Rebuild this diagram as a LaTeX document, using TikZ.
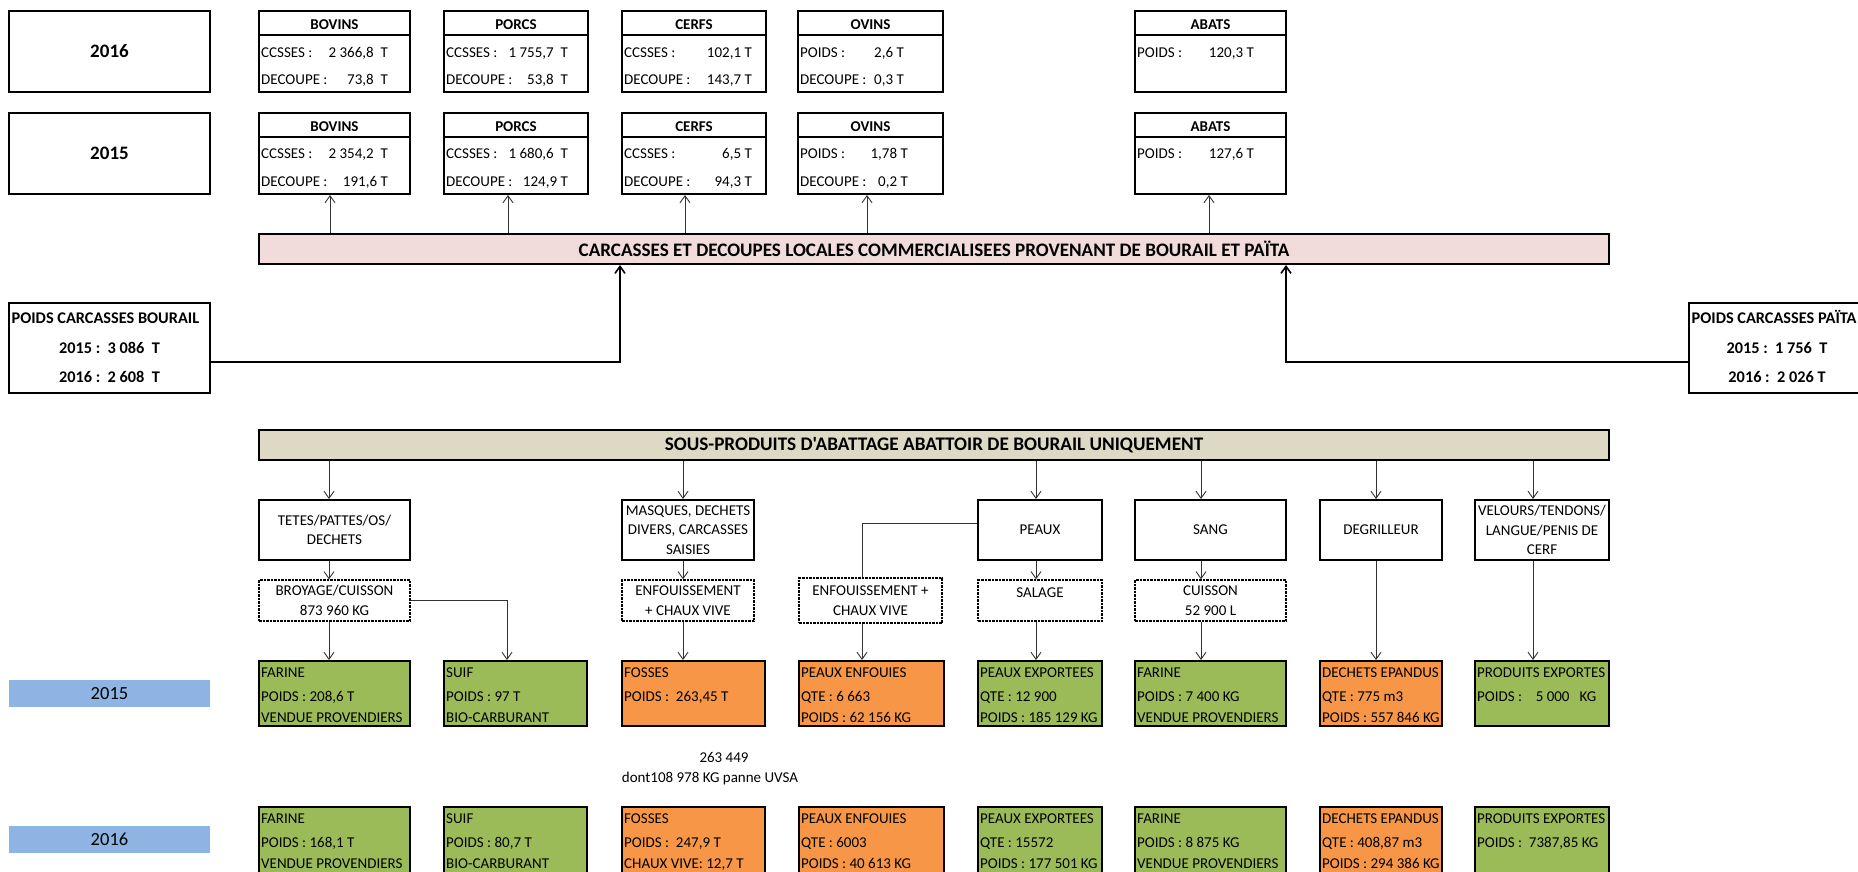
\documentclass[tikz,border=0pt]{standalone}
\usepackage{fontspec}
\setmainfont{Carlito}[Ligatures=TeXOff]
\usetikzlibrary{arrows.meta}
\definecolor{pinkbar}{HTML}{F2DCDB}
\definecolor{tanbar}{HTML}{DDD9C4}
\definecolor{ygreen}{HTML}{9BBB59}
\definecolor{yorange}{HTML}{F79646}
\definecolor{yblue}{HTML}{8DB4E2}
\newcommand{\mynorm}{\fontsize{15}{18}\selectfont}
\newcommand{\myb}{\fontsize{15}{18}\selectfont\bfseries}
\newcommand{\mybig}{\fontsize{16.3}{19}\selectfont\bfseries}
\newcommand{\mymulti}{\fontsize{15}{19.5}\selectfont}
\newcommand{\mybar}{\fontsize{19.1}{22}\selectfont\bfseries}
\newcommand{\mybarb}{\fontsize{19.2}{22}\selectfont\bfseries}
\newcommand{\myyear}{\fontsize{19}{22}\selectfont\bfseries}
\newcommand{\myyearn}{\fontsize{18.5}{22}\selectfont}
\newcommand{\myrbox}[7]{\node[#6, minimum width={(#4-(#2))*1pt}, minimum height={(#5-(#3))*1pt}] (#1) at ({((#2)+(#4))/2},{((#3)+(#5))/2}) {#7};}
\newcommand{\mytopbox}[5]{\myrbox{#1}{#2}{#3}{#4}{#3+81}{frame}{}
  \draw[framel] ([yshift=-25pt]#1.north west) -- ([yshift=-25pt]#1.north east);
  \node[ct, font=\myb] (#1h) at ({((#2)+(#4))/2},{(#3)+13.5}) {#5};}
\newcommand{\myrow}[6]{\node[lt] (#1l) at ({(#2)+2},#3) {#4}; \node[rt] (#1v) at (#5,#3) {#6};}
\newcommand{\mygbox}[9]{\myrbox{#1}{#2}{#4}{#3}{#5}{frame, fill=#6}{}
  \node[lt] (#1a) at ({(#2)+2},{(#4)+11.5}) {#7};
  \node[lt] (#1b) at ({(#2)+2},{(#4)+35}) {#8};
  \node[lt] (#1c) at ({(#2)+2},{(#4)+56}) {#9};}
\begin{document}
\begin{tikzpicture}[x=1pt,y=-1pt,
  every node/.style={font=\mynorm, text=black},
  frame/.style={draw=black, line width=2pt, inner sep=0pt},
  framel/.style={draw=black, line width=2pt},
  dbox/.style={draw=black, line width=1.4pt, dash pattern=on 2.5pt off 1pt, inner sep=0pt},
  thinl/.style={draw=black!80, line width=0.9pt},
  arr/.style={thinl, -{Straight Barb[length=7pt,width=10pt]}},
  heavy/.style={draw=black, line width=1.6pt, -{Straight Barb[length=7pt,width=10pt]}},
  lt/.style={anchor=base west, inner sep=0pt, yshift=-5pt},
  ct/.style={anchor=base, inner sep=0pt, yshift=-5pt},
  rt/.style={anchor=base east, inner sep=0pt, yshift=-5pt}]
\useasboundingbox (0,0) rectangle (1858,871);
\clip (0,0) rectangle (1858,871);
% year boxes
\myrbox{y16}{9}{11}{210}{92}{frame, font=\myyear}{2016}
\myrbox{y15}{9}{113}{210}{194}{frame, font=\myyear}{2015}
% 2016 boxes
\mytopbox{t16a}{259}{11}{410}{BOVINS}
\myrow{t16a1}{259}{52}{CCSSES :}{388}{2~366,8\ \ T}
\myrow{t16a2}{259}{79}{DECOUPE :}{388}{73,8\ \ T}
\mytopbox{t16b}{444}{11}{588}{PORCS}
\myrow{t16b1}{444}{52}{CCSSES :}{568}{1~755,7\ \ T}
\myrow{t16b2}{444}{79}{DECOUPE :}{568}{53,8\ \ T}
\mytopbox{t16c}{622}{11}{766}{CERFS}
\myrow{t16c1}{622}{52}{CCSSES :}{752}{102,1 T}
\myrow{t16c2}{622}{79}{DECOUPE :}{752}{143,7 T}
\mytopbox{t16d}{798}{11}{943}{OVINS}
\myrow{t16d1}{798}{52}{POIDS :}{904}{2,6 T}
\myrow{t16d2}{798}{79}{DECOUPE :}{904}{0,3 T}
\mytopbox{t16f}{1135}{11}{1286}{ABATS}
\myrow{t16f1}{1135}{52}{POIDS :}{1254}{120,3 T}
% 2015 boxes
\mytopbox{t15a}{259}{113}{410}{BOVINS}
\myrow{t15a1}{259}{153}{CCSSES :}{388}{2~354,2\ \ T}
\myrow{t15a2}{259}{181}{DECOUPE :}{388}{191,6 T}
\mytopbox{t15b}{444}{113}{588}{PORCS}
\myrow{t15b1}{444}{153}{CCSSES :}{568}{1~680,6\ \ T}
\myrow{t15b2}{444}{181}{DECOUPE :}{568}{124,9 T}
\mytopbox{t15c}{622}{113}{766}{CERFS}
\myrow{t15c1}{622}{153}{CCSSES :}{752}{6,5 T}
\myrow{t15c2}{622}{181}{DECOUPE :}{752}{94,3 T}
\mytopbox{t15d}{798}{113}{943}{OVINS}
\myrow{t15d1}{798}{153}{POIDS :}{908}{1,78 T}
\myrow{t15d2}{798}{181}{DECOUPE :}{908}{0,2 T}
\mytopbox{t15f}{1135}{113}{1286}{ABATS}
\myrow{t15f1}{1135}{153}{POIDS :}{1254}{127,6 T}
% carcasses bar
\myrbox{carc}{259}{234}{1609}{264}{frame, fill=pinkbar, font=\mybar}{CARCASSES ET DECOUPES LOCALES COMMERCIALISEES PROVENANT DE BOURAIL ET PAÏTA}
\coordinate (xA) at (330,0); \coordinate (xB) at (508,0); \coordinate (xC) at (685,0);
\coordinate (xD) at (867,0); \coordinate (xF) at (1209,0);
\foreach \c/\b in {xA/t15a, xB/t15b, xC/t15c, xD/t15d, xF/t15f}
  \draw[arr] (carc.north -| \c) -- (\b.south -| \c);
% poids carcasses boxes
\myrbox{bour}{9}{303}{210}{393}{frame}{}
\node[lt, font=\mybig] (bour1) at (11.5,318) {POIDS CARCASSES BOURAIL};
\node[ct, font=\mybig] (bour2) at (109.5,348) {2015 :\ \ 3~086\ \ T};
\node[ct, font=\mybig] (bour3) at (109.5,377) {2016 :\ \ 2~608\ \ T};
\myrbox{pait}{1689}{303}{1900}{393}{frame}{}
\node[lt, font=\mybig] (pait1) at (1691.5,318) {POIDS CARCASSES PAÏTA};
\node[ct, font=\mybig] (pait2) at (1777,348) {2015 :\ \ 1~756\ \ T};
\node[ct, font=\mybig] (pait3) at (1777,377) {2016 :\ \ 2~026 T};
\coordinate (hy) at (0,362); \coordinate (xBo) at (620,0); \coordinate (xPa) at (1286,0);
\draw[heavy] (bour.east |- hy) -| (carc.south -| xBo);
\draw[heavy] (pait.west |- hy) -| (carc.south -| xPa);
% sous-produits
\myrbox{sous}{259}{430}{1609}{460}{frame, fill=tanbar, font=\mybarb}{SOUS-PRODUITS D'ABATTAGE ABATTOIR DE BOURAIL UNIQUEMENT}
\myrbox{tetes}{259}{500}{410}{560}{frame, align=center, font=\mymulti}{TETES/PATTES/OS/\\DECHETS}
\myrbox{masq}{622}{500}{754}{560}{frame, align=center, font=\mymulti}{MASQUES, DECHETS\\DIVERS, CARCASSES\\SAISIES}
\myrbox{peaux}{978}{500}{1102}{560}{frame}{PEAUX}
\myrbox{sang}{1135}{500}{1286}{560}{frame}{SANG}
\myrbox{degr}{1320}{500}{1442}{560}{frame}{DEGRILLEUR}
\myrbox{velo}{1475}{500}{1609}{560}{frame, align=center, font=\mymulti}{VELOURS/TENDONS/\\LANGUE/PENIS DE\\CERF}
% dashed process boxes
\myrbox{broy}{259}{580}{410}{621}{dbox, align=center, font=\mymulti}{BROYAGE/CUISSON\\873~960 KG}
\myrbox{enf1}{622}{580}{754}{621}{dbox, align=center, font=\mymulti}{ENFOUISSEMENT\\+ CHAUX VIVE}
\myrbox{enf2}{799}{578}{942}{623}{dbox, align=center, font=\mymulti}{ENFOUISSEMENT +\\CHAUX VIVE}
\myrbox{sal}{978}{580}{1102}{621}{dbox}{}
\node[ct] (salt) at (1040,592) {SALAGE};
\myrbox{cuis}{1135}{580}{1286}{621}{dbox, align=center, font=\mymulti}{CUISSON\\52~900 L}
% 2015 results
\mygbox{g15a}{259}{410}{661}{726}{ygreen}{FARINE}{POIDS : 208,6 T}{VENDUE PROVENDIERS}
\mygbox{g15b}{444}{587}{661}{726}{ygreen}{SUIF}{POIDS : 97 T}{BIO-CARBURANT}
\mygbox{g15c}{622}{765}{661}{726}{yorange}{FOSSES}{POIDS :\ \ 263,45 T}{}
\mygbox{g15d}{799}{944}{661}{726}{yorange}{PEAUX ENFOUIES}{QTE : 6~663}{POIDS : 62~156 KG}
\mygbox{g15e}{978}{1102}{661}{726}{ygreen}{PEAUX EXPORTEES}{QTE : 12~900}{POIDS : 185~129 KG}
\mygbox{g15f}{1135}{1286}{661}{726}{ygreen}{FARINE}{POIDS : 7~400 KG}{VENDUE PROVENDIERS}
\mygbox{g15g}{1320}{1442}{661}{726}{yorange}{DECHETS EPANDUS}{QTE : 775 m3}{POIDS : 557~846 KG}
\mygbox{g15h}{1475}{1609}{661}{726}{ygreen}{PRODUITS EXPORTES}{POIDS :\ \ \ \ 5~000\ \ \ KG}{}
% 2016 results
\mygbox{g16a}{259}{410}{807}{875}{ygreen}{FARINE}{POIDS : 168,1 T}{VENDUE PROVENDIERS}
\mygbox{g16b}{444}{587}{807}{875}{ygreen}{SUIF}{POIDS : 80,7 T}{BIO-CARBURANT}
\mygbox{g16c}{622}{765}{807}{875}{yorange}{FOSSES}{POIDS :\ \ 247,9 T}{CHAUX VIVE: 12,7 T}
\mygbox{g16d}{799}{944}{807}{875}{yorange}{PEAUX ENFOUIES}{QTE : 6003}{POIDS : 40~613 KG}
\mygbox{g16e}{978}{1102}{807}{875}{ygreen}{PEAUX EXPORTEES}{QTE : 15572}{POIDS : 177~501 KG}
\mygbox{g16f}{1135}{1286}{807}{875}{ygreen}{FARINE}{POIDS : 8~875 KG}{VENDUE PROVENDIERS}
\mygbox{g16g}{1320}{1442}{807}{875}{yorange}{DECHETS EPANDUS}{QTE : 408,87 m3}{POIDS : 294~386 KG}
\mygbox{g16h}{1475}{1609}{807}{875}{ygreen}{PRODUITS EXPORTES}{POIDS :\ \ 7387,85 KG}{}
% year labels
\myrbox{yb15}{9}{680}{210}{707}{fill=yblue, inner sep=0pt, font=\myyearn}{2015}
\myrbox{yb16}{9}{826}{210}{853}{fill=yblue, inner sep=0pt, font=\myyearn}{2016}
% note
\node[ct] (note1) at (724,757) {263~449};
\node[ct] (note2) at (710,777) {dont108~978 KG panne UVSA};
% connectors lower part
\coordinate (sA) at (329,0); \coordinate (sB) at (507,0); \coordinate (sC) at (683,0);
\coordinate (sD) at (862,0); \coordinate (sE) at (1036,0); \coordinate (sF) at (1201,0);
\coordinate (sG) at (1376,0); \coordinate (sH) at (1533,0);
\coordinate (hb) at (0,600); \coordinate (hp) at (0,523);
\draw[arr] (sous.south -| sA) -- (tetes.north -| sA);
\draw[arr] (tetes.south -| sA) -- (broy.north -| sA);
\draw[arr] (broy.south -| sA) -- (g15a.north -| sA);
\draw[arr] (broy.east |- hb) -| (g15b.north -| sB);
\draw[arr] (sous.south -| sC) -- (masq.north -| sC);
\draw[arr] (masq.south -| sC) -- (enf1.north -| sC);
\draw[arr] (enf1.south -| sC) -- (g15c.north -| sC);
\draw[thinl] (peaux.west |- hp) -| (enf2.north -| sD);
\draw[arr] (enf2.south -| sD) -- (g15d.north -| sD);
\draw[arr] (sous.south -| sE) -- (peaux.north -| sE);
\draw[arr] (peaux.south -| sE) -- (sal.north -| sE);
\draw[arr] (sal.south -| sE) -- (g15e.north -| sE);
\draw[arr] (sous.south -| sF) -- (sang.north -| sF);
\draw[arr] (sang.south -| sF) -- (cuis.north -| sF);
\draw[arr] (cuis.south -| sF) -- (g15f.north -| sF);
\draw[arr] (sous.south -| sG) -- (degr.north -| sG);
\draw[arr] (degr.south -| sG) -- (g15g.north -| sG);
\draw[arr] (sous.south -| sH) -- (velo.north -| sH);
\draw[arr] (velo.south -| sH) -- (g15h.north -| sH);
\end{tikzpicture}
\end{document}
